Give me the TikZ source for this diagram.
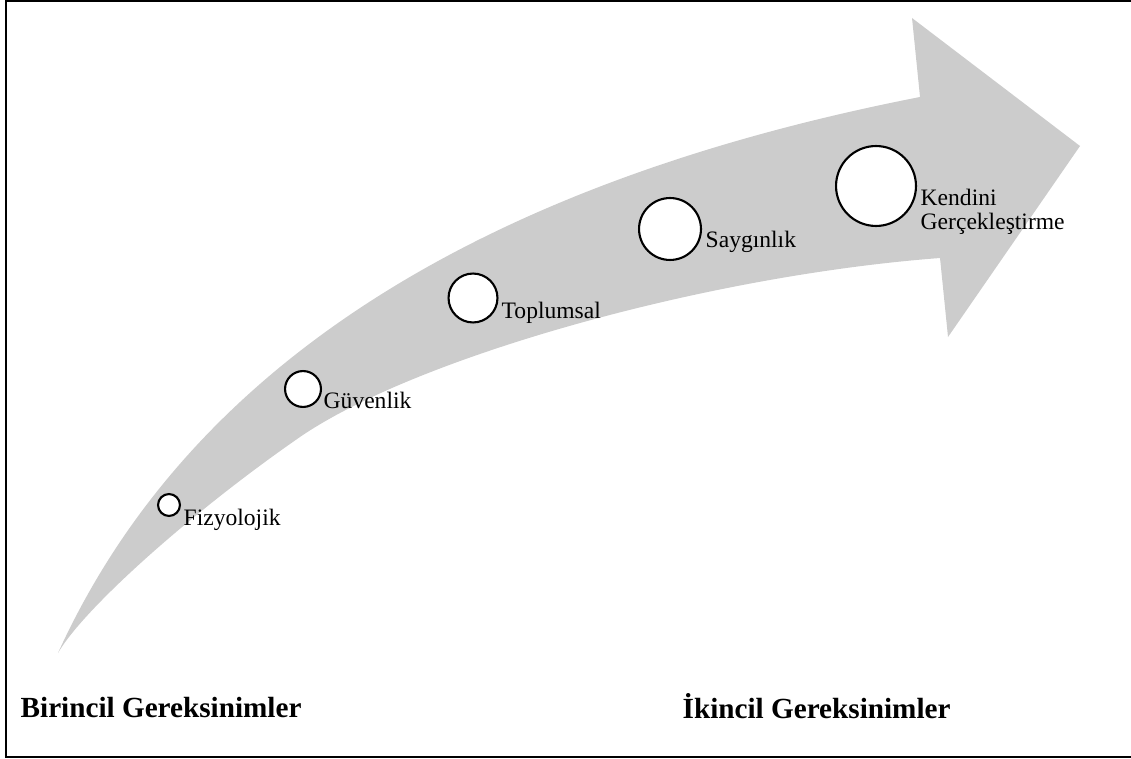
\documentclass[tikz,border=0pt]{standalone}
\usepackage{fontspec}
\setmainfont{Liberation Serif}
\usepackage{xcolor}
\definecolor{okgri}{HTML}{CCCCCC}

\begin{document}
\begin{tikzpicture}[x=0.01cm,y=-0.01cm,
  halka/.style={circle,draw,line width=0.6pt,fill=white,inner sep=0pt},
  etiket/.style={anchor=base west,inner sep=0pt,align=left,font=\fontsize{6.7}{7.1}\selectfont},
  baslik/.style={anchor=base west,inner sep=0pt,font=\fontsize{8.3}{10}\selectfont\bfseries}]
\useasboundingbox (0,0) rectangle (1131,758);
\draw[line width=0.6pt] (1131,1) -- (6,1) -- (6,757) -- (1131,757);
\draw (58,653) coordinate (kuyruk);
\draw (300,437) coordinate (alt);
\draw (920,97) coordinate (u1);
\draw (912,18) coordinate (u2);
\draw (1080,146) coordinate (uc);
\draw (948,337) coordinate (a2);
\draw (940,258) coordinate (a1);
\fill[okgri] (kuyruk) .. controls (186,372) and (470,185) .. (u1)
  -- (u2) -- (uc) -- (a2) -- (a1)
  .. controls (703,276) and (415,358) .. (alt)
  .. controls (193,511) and (84,608) .. (kuyruk) -- cycle;
\node[halka,minimum size=0.219cm] (fiz) at (169,505) {};
\node[halka,minimum size=0.359cm] (guv) at (303,389) {};
\node[halka,minimum size=0.489cm] (top) at (473,298) {};
\node[halka,minimum size=0.619cm] (say) at (670,229) {};
\node[halka,minimum size=0.799cm] (ken) at (876,186) {};
\node[etiket] (fizl) at (183,525) {Fizyolojik};
\node[etiket] (guvl) at (323,408) {Güvenlik};
\node[etiket] (topl) at (501,318) {Toplumsal};
\node[etiket] (sayl) at (705,248) {Saygınlık};
\node[etiket] (kenl) at (920,230) {Kendini\\Gerçekleştirme};
\node[baslik] (bir) at (20,717) {Birincil Gereksinimler};
\node[baslik] (iki) at (682,718) {İkincil Gereksinimler};
\end{tikzpicture}
\end{document}
